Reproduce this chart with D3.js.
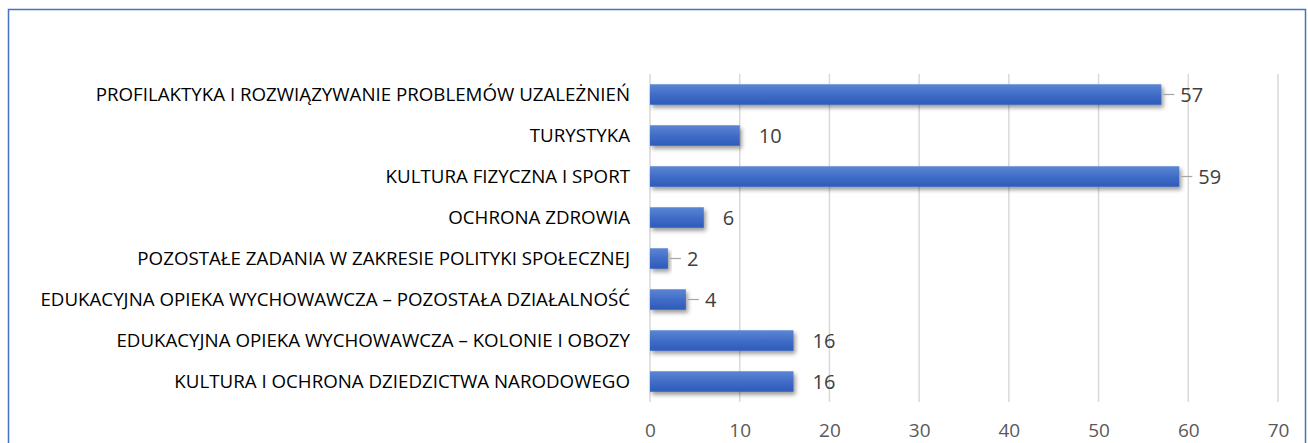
<!DOCTYPE html>
<html>
<head>
<meta charset="utf-8">
<script src="https://cdn.jsdelivr.net/npm/d3@7"></script>
<style>
  html, body { margin: 0; padding: 0; background: #fff; }
  svg { display: block; }
</style>
</head>
<body>
<svg id="chart" width="1308" height="443"></svg>
<script>
const categories = [
  "PROFILAKTYKA I ROZWIĄZYWANIE PROBLEMÓW UZALEŻNIEŃ",
  "TURYSTYKA",
  "KULTURA FIZYCZNA I SPORT",
  "OCHRONA ZDROWIA",
  "POZOSTAŁE ZADANIA W ZAKRESIE POLITYKI SPOŁECZNEJ",
  "EDUKACYJNA OPIEKA WYCHOWAWCZA – POZOSTAŁA DZIAŁALNOŚĆ",
  "EDUKACYJNA OPIEKA WYCHOWAWCZA – KOLONIE I OBOZY ",
  "KULTURA I OCHRONA DZIEDZICTWA NARODOWEGO"
];
const values = [57, 10, 59, 6, 2, 4, 16, 16];
const leaderLines = [true, false, true, false, true, true, false, false];
const xTicks = [0, 10, 20, 30, 40, 50, 60, 70];

const svg = d3.select("#chart");

// border
svg.append("rect")
  .attr("x", 8.5).attr("y", 9.5)
  .attr("width", 1297).attr("height", 460)
  .attr("fill", "none").attr("stroke", "#4472C4").attr("stroke-width", 1.5);

const defs = svg.append("defs");
const grad = defs.append("linearGradient").attr("id", "barGrad")
  .attr("x1", 0).attr("y1", 0).attr("x2", 0).attr("y2", 1);
grad.append("stop").attr("offset", "0%").attr("stop-color", "#5b86d5");
grad.append("stop").attr("offset", "50%").attr("stop-color", "#416dc7");
grad.append("stop").attr("offset", "100%").attr("stop-color", "#2d5bb9");

const filt = defs.append("filter").attr("id", "shadow")
  .attr("x", "-10%").attr("y", "-40%").attr("width", "130%").attr("height", "200%");
filt.append("feDropShadow").attr("dx", 2).attr("dy", 3)
  .attr("stdDeviation", 2).attr("flood-color", "#000").attr("flood-opacity", 0.4);

const x = d3.scaleLinear().domain([0, 70]).range([650, 1278]);
const y = d3.scaleBand().domain(categories).range([74, 402])
  .paddingInner(0.5).paddingOuter(0.25);

// gridlines
svg.append("g").selectAll("line").data(xTicks).join("line")
  .attr("x1", d => x(d)).attr("x2", d => x(d))
  .attr("y1", 74).attr("y2", 402)
  .attr("stroke", "#d9d9d9").attr("stroke-width", 1.5);

// x axis tick labels
const xAxis = d3.axisBottom(x).tickValues(xTicks).tickSize(0).tickPadding(0);
const gx = svg.append("g").attr("transform", "translate(0,437)").call(xAxis);
gx.select(".domain").remove();
gx.selectAll("text")
  .attr("font-family", "'Open Sans', 'Noto Sans', sans-serif")
  .attr("font-size", 19).attr("fill", "#595959")
  .attr("dy", "0");

// bars
svg.append("g").selectAll("rect").data(values).join("rect")
  .attr("x", x(0))
  .attr("y", (d, i) => y(categories[i]))
  .attr("width", d => x(d) - x(0))
  .attr("height", y.bandwidth())
  .attr("fill", "url(#barGrad)")
  .attr("filter", "url(#shadow)");

// leader lines
svg.append("g").selectAll("line").data(values.map((v, i) => ({v, i})).filter(d => leaderLines[d.i])).join("line")
  .attr("x1", d => x(d.v) + 2).attr("x2", d => x(d.v) + 13)
  .attr("y1", d => y(categories[d.i]) + y.bandwidth() / 2)
  .attr("y2", d => y(categories[d.i]) + y.bandwidth() / 2)
  .attr("stroke", "#a6a6a6").attr("stroke-width", 1.2);

// value labels
svg.append("g").selectAll("text").data(values).join("text")
  .attr("x", d => x(d) + 19)
  .attr("y", (d, i) => y(categories[i]) + y.bandwidth() / 2)
  .attr("dy", "0.36em")
  .attr("font-family", "'Open Sans', 'Noto Sans', sans-serif")
  .attr("font-size", 20).attr("fill", "#404040")
  .text(d => d);

// category labels (y axis)
const yAxis = d3.axisLeft(y).tickSize(0).tickPadding(0);
const gy = svg.append("g").attr("transform", "translate(630,0)").call(yAxis);
gy.select(".domain").remove();
const catText = gy.selectAll("text")
  .attr("font-family", "'Open Sans', 'Noto Sans', sans-serif")
  .attr("font-size", 17.5).attr("fill", "#000")
  .attr("dy", "0.36em");
// condense horizontally so the longest label spans about 590px, like the reference
let maxW = 0;
catText.each(function() { maxW = Math.max(maxW, this.getComputedTextLength()); });
const sx = 590 / maxW;
gy.attr("transform", `translate(630,0) scale(${sx},1)`);
</script>
</body>
</html>
